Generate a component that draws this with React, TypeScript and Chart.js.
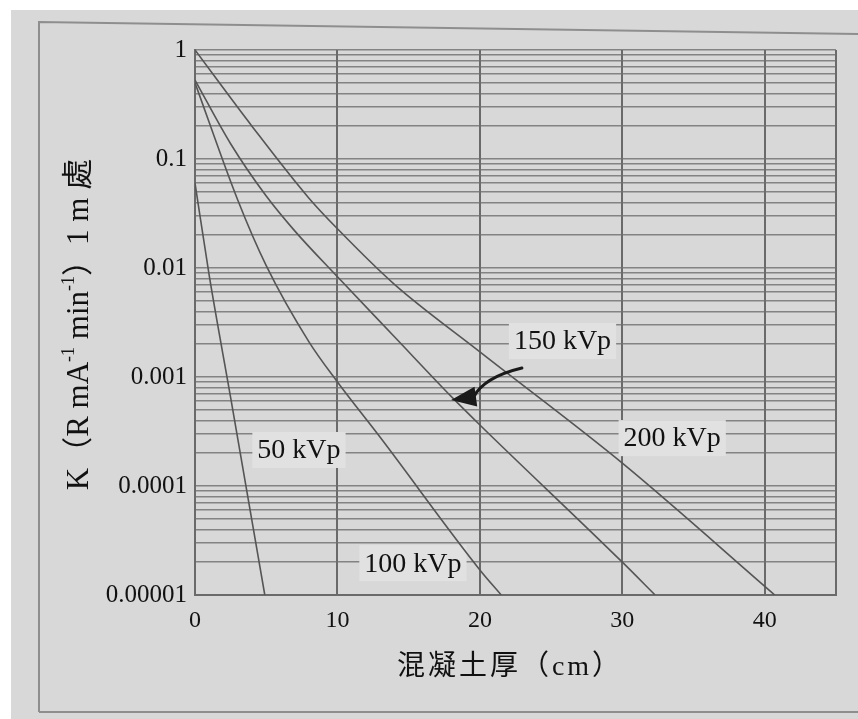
import React, { useEffect, useRef } from 'react';
import { Chart, registerables } from 'chart.js';

Chart.register(...registerables);

// ---- axis ticks ----
const xTicks = [0, 10, 20, 30, 40, 45];
const xTickLabels = ['0', '10', '20', '30', '40', ''];
const yMajorTicks = [0.00001, 0.0001, 0.001, 0.01, 0.1, 1];
const yTickLabels = ['0.00001', '0.0001', '0.001', '0.01', '0.1', '1'];
const yMinorFactors = [2, 3, 4, 5, 6, 7, 8, 9];

// ---- series (concrete thickness cm, K value) ----
const kv50X = [0, 1, 2.5, 4.9];
const kv50Y = [0.06, 0.0085, 0.00065, 0.00001];
const kv100X = [0, 3, 5, 8, 10, 13, 20, 21.5];
const kv100Y = [0.5, 0.042, 0.0105, 0.0021, 0.0009, 0.00028, 0.000017, 0.00001];
const kv150X = [0, 2.5, 5, 7, 10, 14, 18, 20, 30, 32.3];
const kv150Y = [0.53, 0.138, 0.0457, 0.0219, 0.0083, 0.00234, 0.00066, 0.000363, 0.00002, 0.00001];
const kv200X = [0, 4, 8, 10, 14, 20, 30, 40.7];
const kv200Y = [1, 0.2, 0.0437, 0.0229, 0.00708, 0.0017, 0.000162, 0.00001];

const seriesNames = ['50 kVp', '100 kVp', '150 kVp', '200 kVp'];
const seriesX = [kv50X, kv100X, kv150X, kv200X];
const seriesY = [kv50Y, kv100Y, kv150Y, kv200Y];

// label anchor positions (data coords)
const labelX = [7.3, 15.3, 25.8, 33.5];
const labelY = [0.000214, 0.0000196, 0.00214, 0.000275];

// arrow from "150 kVp" label to its curve (data coords)
const arrowTail = [22.95, 0.00121];
const arrowCtrl = [20.3, 0.001];
const arrowBase = [19.56, 0.000656];
const arrowTip = [17.98, 0.000615];

const xTitle = '混凝土厚（cm）';
const yTitleParts = [
  { t: 'K（R mA', sup: false },
  { t: '-1', sup: true },
  { t: ' min', sup: false },
  { t: '-1', sup: true },
  { t: '）1 m 處', sup: false },
];

const PAPER = '#d8d8d8';
const BOX = '#e1e1e1';
const SERIF = '"Liberation Serif", "Noto Sans CJK TC", serif';

const paperPlugin = {
  id: 'paper',
  beforeDraw(chart: any) {
    const { ctx, width, height } = chart;
    ctx.save();
    ctx.fillStyle = '#ffffff';
    ctx.fillRect(0, 0, width, height);
    ctx.fillStyle = PAPER;
    ctx.fillRect(11, 10, width - 11, height - 10);
    ctx.strokeStyle = '#8e8e8e';
    ctx.lineWidth = 2;
    ctx.beginPath();
    ctx.moveTo(39, 712);
    ctx.lineTo(39, 22);
    ctx.lineTo(width, 34);
    ctx.stroke();
    ctx.beginPath();
    ctx.moveTo(39, 712);
    ctx.lineTo(width, 712);
    ctx.stroke();
    ctx.restore();
  },
};

const labelPlugin = {
  id: 'labels',
  beforeDatasetsDraw(chart: any) {
    const { ctx } = chart;
    const x = chart.scales.x;
    const y = chart.scales.y;
    ctx.save();
    ctx.font = `28px ${SERIF}`;
    seriesNames.forEach((t, i) => {
      const px = x.getPixelForValue(labelX[i]);
      const py = y.getPixelForValue(labelY[i]);
      const w = ctx.measureText(t).width;
      ctx.fillStyle = BOX;
      ctx.fillRect(px - w / 2 - 5, py - 18, w + 10, 36);
    });
    ctx.restore();
  },
  afterDatasetsDraw(chart: any) {
    const { ctx } = chart;
    const x = chart.scales.x;
    const y = chart.scales.y;
    ctx.save();
    ctx.font = `28px ${SERIF}`;
    ctx.fillStyle = '#111';
    ctx.textAlign = 'center';
    ctx.textBaseline = 'middle';
    seriesNames.forEach((t, i) => {
      ctx.fillText(t, x.getPixelForValue(labelX[i]), y.getPixelForValue(labelY[i]) + 1);
    });
    // arrow
    const P = (p: number[]) => [x.getPixelForValue(p[0]), y.getPixelForValue(p[1])];
    const [tx, ty] = P(arrowTail);
    const [cx, cy] = P(arrowCtrl);
    const [bx, by] = P(arrowBase);
    const [hx, hy] = P(arrowTip);
    ctx.strokeStyle = '#1a1a1a';
    ctx.lineWidth = 3;
    ctx.lineCap = 'round';
    ctx.beginPath();
    ctx.moveTo(tx, ty);
    ctx.quadraticCurveTo(cx, cy, bx, by);
    ctx.stroke();
    const dx = hx - bx, dy = hy - by;
    const len = Math.hypot(dx, dy);
    const nx = -dy / len, ny = dx / len;
    const hw = 10;
    ctx.fillStyle = '#1a1a1a';
    ctx.beginPath();
    ctx.moveTo(hx, hy);
    ctx.lineTo(bx + nx * hw + (bx - hx) * 0.1, by + ny * hw + (by - hy) * 0.1);
    ctx.lineTo(bx - nx * hw + (bx - hx) * 0.1, by - ny * hw + (by - hy) * 0.1);
    ctx.closePath();
    ctx.fill();
    ctx.restore();
  },
};

const titlePlugin = {
  id: 'titles',
  afterDraw(chart: any) {
    const { ctx, chartArea } = chart;
    ctx.save();
    ctx.fillStyle = '#111';
    // x title
    ctx.font = `28px ${SERIF}`;
    (ctx as any).letterSpacing = '3px';
    ctx.textAlign = 'center';
    ctx.textBaseline = 'middle';
    ctx.fillText(xTitle, 510, 668);
    (ctx as any).letterSpacing = '0px';
    // y title (rotated)
    const main = `31px ${SERIF}`;
    const small = `18px ${SERIF}`;
    let total = 0;
    const widths = yTitleParts.map((p) => {
      ctx.font = p.sup ? small : main;
      const w = ctx.measureText(p.t).width;
      total += w;
      return w;
    });
    ctx.translate(80, (chartArea.top + chartArea.bottom) / 2 + 2);
    ctx.rotate(-Math.PI / 2);
    ctx.textAlign = 'left';
    ctx.textBaseline = 'middle';
    let cur = -total / 2;
    yTitleParts.forEach((p, i) => {
      ctx.font = p.sup ? small : main;
      ctx.fillText(p.t, cur, p.sup ? -11 : 0);
      cur += widths[i];
    });
    ctx.restore();
  },
};

function buildYTicks() {
  const vals: number[] = [];
  yMajorTicks.forEach((m, i) => {
    vals.push(m);
    if (i < yMajorTicks.length - 1) yMinorFactors.forEach((f) => vals.push(m * f));
  });
  return vals;
}

export default function App() {
  const ref = useRef<HTMLCanvasElement>(null);
  useEffect(() => {
    if (!ref.current) return;
    const datasets = seriesNames.map((name, i) => ({
      label: name,
      data: seriesX[i].map((xv, j) => ({ x: xv, y: seriesY[i][j] })),
      borderColor: '#555555',
      borderWidth: 1.6,
      pointRadius: 0,
      fill: false,
      cubicInterpolationMode: 'monotone' as const,
    }));
    const chart = new Chart(ref.current, {
      type: 'line',
      data: { datasets },
      plugins: [paperPlugin, labelPlugin, titlePlugin],
      options: {
        responsive: false,
        animation: false,
        layout: { padding: { left: 0, top: 50, right: 22, bottom: 0 } },
        plugins: { legend: { display: false }, tooltip: { enabled: false } },
        scales: {
          x: {
            type: 'linear',
            min: 0,
            max: 45,
            afterBuildTicks: (s: any) => {
              s.ticks = xTicks.map((v) => ({ value: v }));
            },
            afterFit: (s: any) => {
              s.height = 124;
            },
            ticks: {
              autoSkip: false,
              maxRotation: 0,
              padding: 11,
              color: '#111',
              font: { family: SERIF, size: 24 },
              callback: (v: any) => {
                const k = xTicks.indexOf(Number(v));
                return k >= 0 ? xTickLabels[k] : '';
              },
            },
            grid: { color: '#6a6a6a', lineWidth: 2, drawTicks: false },
            border: { color: '#6a6a6a', width: 2 },
          },
          y: {
            type: 'logarithmic',
            min: 0.00001,
            max: 1,
            afterBuildTicks: (s: any) => {
              s.ticks = buildYTicks().map((v) => ({ value: v }));
            },
            afterFit: (s: any) => {
              s.width = 195;
            },
            ticks: {
              autoSkip: false,
              padding: 8,
              color: '#111',
              font: { family: SERIF, size: 25 },
              callback: (v: any) => {
                const lv = Math.log10(Number(v));
                const k = yMajorTicks.findIndex((m) => Math.abs(Math.log10(m) - lv) < 1e-6);
                return k >= 0 ? yTickLabels[k] : '';
              },
            },
            grid: { color: 'rgba(110,110,110,0.8)', lineWidth: 1.5, drawTicks: false },
            border: { color: '#6a6a6a', width: 2 },
          },
        },
      },
    } as any);
    return () => chart.destroy();
  }, []);
  return (
    <div style={{ position: 'absolute', left: 0, top: 0, width: 858, height: 719 }}>
      <canvas ref={ref} width={858} height={719} style={{ display: 'block' }} />
    </div>
  );
}
